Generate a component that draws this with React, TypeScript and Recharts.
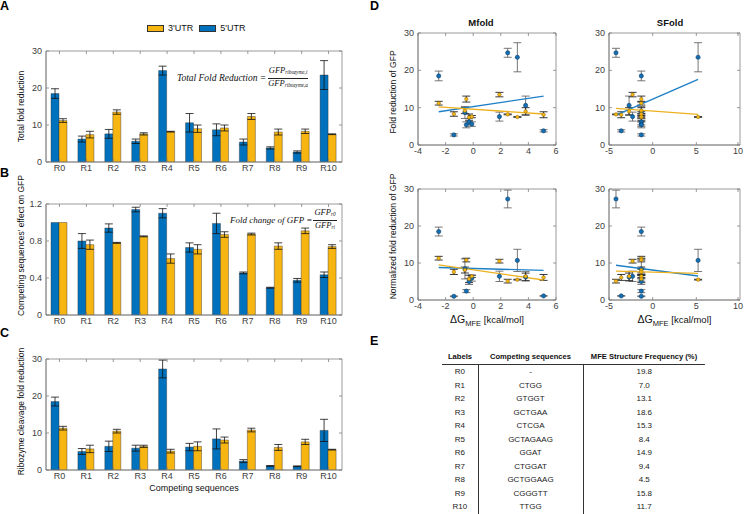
import React from "react"
import {
  BarChart,
  Bar,
  XAxis,
  YAxis,
  CartesianGrid,
  ErrorBar,
  Legend,
  ComposedChart,
  Scatter,
  Line,
  Label,
} from "recharts"

const FONT = '"Liberation Sans", Arial, Helvetica, sans-serif'
const SERIF = '"Liberation Serif", "DejaVu Serif", serif'
const BLUE = "#0072BD"
const YELLOW = "#F7B512"
const AXIS = "#808080"
const TICK_TEXT = "#404040"
const LABEL_TEXT = "#111"

// categories
const labels = ["R0", "R1", "R2", "R3", "R4", "R5", "R6", "R7", "R8", "R9", "R10"]

// A: total fold reduction
const total5 = [18.5, 6.2, 7.6, 5.6, 24.7, 10.6, 8.7, 5.4, 3.8, 2.7, 23.5]
const total5Err = [1.3, 0.8, 1.2, 0.6, 1.2, 2.5, 1.6, 0.8, 0.3, 0.3, 3.9]
const total3 = [11.2, 7.4, 13.5, 7.6, 8.2, 9.0, 9.2, 12.3, 8.1, 8.3, 7.5]
const total3Err = [0.5, 0.9, 0.6, 0.3, 0.1, 1.0, 0.8, 0.8, 0.8, 0.6, 0.1]

// B: competing sequences' effect on GFP
const effect5 = [1.0, 0.8, 0.94, 1.14, 1.1, 0.73, 0.99, 0.455, 0.295, 0.375, 0.435]
const effect5Err = [0, 0.08, 0.045, 0.025, 0.05, 0.05, 0.11, 0.01, 0.005, 0.02, 0.03]
const effect3 = [1.0, 0.76, 0.78, 0.85, 0.61, 0.71, 0.87, 0.875, 0.745, 0.91, 0.74]
const effect3Err = [0, 0.05, 0.005, 0.005, 0.05, 0.05, 0.03, 0.01, 0.035, 0.03, 0.02]

// C: ribozyme cleavage fold reduction
const cleave5 = [18.5, 5.0, 6.4, 5.9, 27.3, 6.2, 8.4, 2.4, 1.1, 1.0, 10.7]
const cleave5Err = [1.2, 0.8, 1.4, 0.8, 2.4, 1.0, 2.7, 0.4, 0.1, 0.1, 3.0]
const cleave3 = [11.3, 5.7, 10.5, 6.4, 5.1, 6.4, 8.1, 10.8, 6.1, 7.6, 5.5]
const cleave3Err = [0.5, 1.0, 0.5, 0.3, 0.5, 1.2, 0.8, 0.5, 0.8, 0.7, 0.1]

// D: free energies (kcal/mol) per construct
const mfoldDG = [-2.5, -0.3, 1.9, -0.1, 2.5, 3.8, -0.6, -0.5, 5.1, -1.4, 3.2]
const sfoldDG = [-1.3, -1.3, -2.3, -1.3, -4.2, -2.7, -1.3, -1.3, -3.6, -1.3, 5.2]

// D: linear fit end points
const mfoldFitX = [-2.5, 5.1]
const sfoldFitX = [-4.2, 5.2]
const fitTotalMfold5 = [8.9, 13.1]
const fitTotalMfold3 = [10.2, 8.3]
const fitTotalSfold5 = [8.0, 17.6]
const fitTotalSfold3 = [9.8, 8.2]
const fitCleaveMfold5 = [8.8, 8.0]
const fitCleaveMfold3 = [9.5, 5.4]
const fitCleaveSfold5 = [9.4, 6.5]
const fitCleaveSfold3 = [7.8, 7.2]

const countTicks = [0, 5, 10, 15, 20, 25, 30]
const effectTicks = [0, 0.2, 0.4, 0.6, 0.8, 1, 1.2]
const mfoldTicks = [-4, -2, 0, 2, 4, 6]
const sfoldTicks = [-5, 0, 5, 10]

// E: table
const sequences = ["-", "CTGG", "GTGGT", "GCTGAA", "CTCGA", "GCTAGAAG", "GGAT", "CTGGAT", "GCTGGAAG", "CGGGTT", "TTGG"]
const mfeFrequency = [19.8, 7.0, 13.1, 18.6, 15.3, 8.4, 14.9, 9.4, 4.5, 15.8, 11.7]

const barRows = (v5: number[], e5: number[], v3: number[], e3: number[]) =>
  labels.map((name, i) => ({ name, v5: v5[i], e5: e5[i], v3: v3[i], e3: e3[i] }))

const points = (xs: number[], ys: number[], es: number[]) =>
  labels.map((name, i) => ({ name, x: xs[i], y: ys[i], e: es[i] }))

const fitLine = (xs: number[], ys: number[]) => xs.map((x, i) => ({ x, y: ys[i] }))

// inward MATLAB-style ticks, drawn on both sides of the box
function makeYTick(margin: number, plotW: number) {
  return (props: any) => {
    const { x, y, payload } = props
    const ax = x + margin
    return (
      <g>
        <line x1={ax} y1={y} x2={ax + 3} y2={y} stroke={AXIS} strokeWidth={0.8} />
        <line x1={ax + plotW} y1={y} x2={ax + plotW - 3} y2={y} stroke={AXIS} strokeWidth={0.8} />
        <text x={x} y={y} dy="0.35em" textAnchor="end" fontSize={9} fill={TICK_TEXT} fontFamily={FONT}>
          {String(payload.value)}
        </text>
      </g>
    )
  }
}

function makeXTick(margin: number, plotH: number) {
  return (props: any) => {
    const { x, y, payload } = props
    const ay = y - margin
    return (
      <g>
        <line x1={x} y1={ay} x2={x} y2={ay - 3} stroke={AXIS} strokeWidth={0.8} />
        <line x1={x} y1={ay - plotH} x2={x} y2={ay - plotH + 3} stroke={AXIS} strokeWidth={0.8} />
        <text x={x} y={y} dy="0.71em" textAnchor="middle" fontSize={9} fill={TICK_TEXT} fontFamily={FONT}>
          {String(payload.value)}
        </text>
      </g>
    )
  }
}

const yTitle = (text: string, dx: number, dy: number) => (props: any) => {
  const vb = props.viewBox
  const x = vb.x + dx
  const y = vb.y + vb.height / 2 + dy
  return (
    <text
      x={x}
      y={y}
      transform={`rotate(-90 ${x} ${y})`}
      textAnchor="middle"
      dominantBaseline="central"
      fontSize={8.5}
      fill={LABEL_TEXT}
      fontFamily={FONT}
    >
      {text}
    </text>
  )
}

const xTitle = (text: string, dy: number) => (props: any) => {
  const vb = props.viewBox
  return (
    <text x={vb.x + vb.width / 2} y={vb.y + dy} textAnchor="middle" fontSize={9} fill={LABEL_TEXT} fontFamily={FONT}>
      {text}
    </text>
  )
}

const dgTitle = (props: any) => {
  const vb = props.viewBox
  return (
    <text x={vb.x + vb.width / 2} y={vb.y + 23} textAnchor="middle" fill={LABEL_TEXT} fontFamily={FONT}>
      <tspan fontSize={10.5}>ΔG</tspan>
      <tspan fontSize={7.5} dy={3}>MFE</tspan>
      <tspan fontSize={9.5} dy={-3}> [kcal/mol]</tspan>
    </text>
  )
}

const renderLegend = (props: any) => {
  const items = [...(props.payload || [])].sort((a: any, b: any) => String(a.value).localeCompare(String(b.value)))
  return (
    <div style={{ display: "flex", alignItems: "center", fontFamily: FONT, fontSize: 9, color: LABEL_TEXT }}>
      {items.map((it: any) => (
        <div key={it.value} style={{ display: "flex", alignItems: "center", marginRight: 6 }}>
          <span
            style={{
              display: "inline-block",
              width: 15,
              height: 5,
              background: it.color,
              border: "0.5px solid #333",
              marginRight: 4,
            }}
          />
          <span>{it.value}</span>
        </div>
      ))}
    </div>
  )
}

const BAR_W = 350
const BAR_YW = 46
const BAR_RIGHT = 8
const BAR_PLOT_W = BAR_W - BAR_YW - BAR_RIGHT

interface BarPanelProps {
  rows: ReturnType<typeof barRows>
  top: number
  marginTop: number
  plotH: number
  xAxisH: number
  domain: [number, number]
  ticks: number[]
  yText: string
  yDy: number
  xText?: string
  legend?: boolean
}

function BarPanel({ rows, top, marginTop, plotH, xAxisH, domain, ticks, yText, yDy, xText, legend }: BarPanelProps) {
  const height = marginTop + plotH + xAxisH
  return (
    <div style={{ position: "absolute", left: 0, top }}>
      <BarChart
        width={BAR_W}
        height={height}
        data={rows}
        margin={{ top: marginTop, right: BAR_RIGHT, left: 0, bottom: 0 }}
        barGap={0}
        barSize={8}
      >
        <CartesianGrid
          horizontalPoints={[marginTop, marginTop + plotH]}
          verticalPoints={[BAR_YW, BAR_YW + BAR_PLOT_W]}
          stroke={AXIS}
          strokeWidth={0.8}
        />
        <XAxis
          dataKey="name"
          height={xAxisH}
          interval={0}
          tickLine={false}
          tickSize={0}
          tickMargin={3}
          axisLine={{ stroke: AXIS, strokeWidth: 0.8 }}
          tick={makeXTick(3, plotH)}
        >
          {xText ? <Label content={xTitle(xText, 21)} /> : null}
        </XAxis>
        <YAxis
          width={BAR_YW}
          domain={domain}
          ticks={ticks}
          allowDataOverflow
          tickLine={false}
          tickSize={0}
          tickMargin={4}
          axisLine={{ stroke: AXIS, strokeWidth: 0.8 }}
          tick={makeYTick(4, BAR_PLOT_W)}
        >
          <Label content={yTitle(yText, 21, yDy)} />
        </YAxis>
        {legend ? (
          <Legend
            content={renderLegend}
            layout="horizontal"
            verticalAlign="middle"
            align="center"
            wrapperStyle={{ top: 8, left: 147, width: 120, height: 16 }}
          />
        ) : null}
        <Bar dataKey="v5" name="5'UTR" fill={BLUE} stroke="#2a2a2a" strokeWidth={0.4} isAnimationActive={false}>
          <ErrorBar dataKey="e5" width={4} stroke="#111" strokeWidth={0.8} />
        </Bar>
        <Bar dataKey="v3" name="3'UTR" fill={YELLOW} stroke="#2a2a2a" strokeWidth={0.4} isAnimationActive={false}>
          <ErrorBar dataKey="e3" width={4} stroke="#111" strokeWidth={0.8} />
        </Bar>
      </BarChart>
    </div>
  )
}

const blueDot = (p: any) => <circle cx={p.cx} cy={p.cy} r={2.1} fill="#1470b4" stroke="#0b3c68" strokeWidth={0.6} />
const yellowDot = (p: any) => <circle cx={p.cx} cy={p.cy} r={1.8} fill={YELLOW} stroke="#6a5208" strokeWidth={0.4} />

interface ScatterPanelProps {
  left: number
  top: number
  width: number
  yW: number
  right: number
  marginTop: number
  plotH: number
  xAxisH: number
  xDomain: [number, number]
  xTicks: number[]
  blue: ReturnType<typeof points>
  yellow: ReturnType<typeof points>
  fitBlue: { x: number; y: number }[]
  fitYellow: { x: number; y: number }[]
  yText?: string
  yDy?: number
  dgLabel?: boolean
}

function ScatterPanel(p: ScatterPanelProps) {
  const height = p.marginTop + p.plotH + p.xAxisH
  const plotW = p.width - p.yW - p.right
  return (
    <div style={{ position: "absolute", left: p.left, top: p.top }}>
      <ComposedChart
        width={p.width}
        height={height}
        margin={{ top: p.marginTop, right: p.right, left: 0, bottom: 0 }}
      >
        <CartesianGrid
          horizontalPoints={[p.marginTop, p.marginTop + p.plotH]}
          verticalPoints={[p.yW, p.yW + plotW]}
          stroke={AXIS}
          strokeWidth={0.8}
        />
        <XAxis
          type="number"
          dataKey="x"
          domain={p.xDomain}
          ticks={p.xTicks}
          allowDataOverflow
          height={p.xAxisH}
          tickLine={false}
          tickSize={0}
          tickMargin={3}
          axisLine={{ stroke: AXIS, strokeWidth: 0.8 }}
          tick={makeXTick(3, p.plotH)}
        >
          {p.dgLabel ? <Label content={dgTitle} /> : null}
        </XAxis>
        <YAxis
          type="number"
          dataKey="y"
          domain={[0, 30]}
          ticks={countTicks}
          allowDataOverflow
          width={p.yW}
          tickLine={false}
          tickSize={0}
          tickMargin={4}
          axisLine={{ stroke: AXIS, strokeWidth: 0.8 }}
          tick={makeYTick(4, plotW)}
        >
          {p.yText ? <Label content={yTitle(p.yText, 23, p.yDy || 0)} /> : null}
        </YAxis>
        <Scatter data={p.blue} shape={blueDot} isAnimationActive={false}>
          <ErrorBar dataKey="e" direction="y" width={4} stroke="#555" strokeWidth={0.8} />
        </Scatter>
        <Scatter data={p.yellow} shape={yellowDot} isAnimationActive={false}>
          <ErrorBar dataKey="e" direction="y" width={4} stroke="#222" strokeWidth={0.9} />
        </Scatter>
        <Line
          data={p.fitBlue}
          dataKey="y"
          type="linear"
          stroke="#1f80c6"
          strokeWidth={1.4}
          dot={false}
          activeDot={false}
          isAnimationActive={false}
        />
        <Line
          data={p.fitYellow}
          dataKey="y"
          type="linear"
          stroke="#EDB120"
          strokeWidth={1.4}
          dot={false}
          activeDot={false}
          isAnimationActive={false}
        />
      </ComposedChart>
    </div>
  )
}

function Fraction({ num, numSub, den, denSub, size }: { num: string; numSub: string; den: string; denSub: string; size: number }) {
  const sub = { fontSize: size * 0.62, verticalAlign: "-0.25em" } as React.CSSProperties
  return (
    <span style={{ display: "inline-flex", flexDirection: "column", alignItems: "center", margin: "0 1px" }}>
      <span style={{ lineHeight: `${size + 1}px`, borderBottom: "0.8px solid #222", padding: "0 1px" }}>
        {num}
        <span style={sub}>{numSub}</span>
      </span>
      <span style={{ lineHeight: `${size + 1}px`, padding: "0 1px" }}>
        {den}
        <span style={sub}>{denSub}</span>
      </span>
    </span>
  )
}

const panelLetter = (text: string, left: number, top: number) => (
  <div
    style={{
      position: "absolute",
      left,
      top,
      fontFamily: FONT,
      fontWeight: "bold",
      fontSize: 12.5,
      lineHeight: "13px",
      color: "#000",
    }}
  >
    {text}
  </div>
)

const centeredTitle = (text: string, cx: number, top: number) => (
  <div
    style={{
      position: "absolute",
      left: cx - 40,
      width: 80,
      top,
      textAlign: "center",
      fontFamily: FONT,
      fontWeight: "bold",
      fontSize: 9.5,
      lineHeight: "12px",
      color: "#111",
    }}
  >
    {text}
  </div>
)

const cell: React.CSSProperties = { padding: 0, height: 13.5, lineHeight: "13.5px", textAlign: "center" }

export default function App() {
  return (
    <div
      style={{
        position: "absolute",
        left: 0,
        top: 0,
        width: 746,
        height: 514,
        background: "#fff",
        overflow: "hidden",
        fontFamily: FONT,
      }}
    >
      <BarPanel
        rows={barRows(total5, total5Err, total3, total3Err)}
        top={15}
        marginTop={36}
        plotH={111}
        xAxisH={23}
        domain={[0, 30]}
        ticks={countTicks}
        yText="Total fold reduction"
        yDy={0}
        legend
      />
      <BarPanel
        rows={barRows(effect5, effect5Err, effect3, effect3Err)}
        top={170}
        marginTop={34}
        plotH={111}
        xAxisH={22}
        domain={[0, 1.2]}
        ticks={effectTicks}
        yText="Competing sequences' effect on GFP"
        yDy={-14}
      />
      <BarPanel
        rows={barRows(cleave5, cleave5Err, cleave3, cleave3Err)}
        top={335}
        marginTop={24}
        plotH={111}
        xAxisH={32}
        domain={[0, 30]}
        ticks={countTicks}
        yText="Ribozyme cleavage fold reduction"
        yDy={-3}
        xText="Competing sequences"
      />

      {/* formulas */}
      <div
        style={{
          position: "absolute",
          left: 177,
          top: 65,
          display: "flex",
          alignItems: "center",
          fontFamily: SERIF,
          fontStyle: "italic",
          fontSize: 9.5,
          color: "#111",
          whiteSpace: "nowrap",
        }}
      >
        <span>Total Fold Reduction =</span>
        <span style={{ fontSize: 8.5 }}>
          <Fraction num="GFP" numSub="ribozyme,i" den="GFP" denSub="ribozyme,a" size={8.5} />
        </span>
      </div>
      <div
        style={{
          position: "absolute",
          left: 230,
          top: 207,
          display: "flex",
          alignItems: "center",
          fontFamily: SERIF,
          fontStyle: "italic",
          fontSize: 9,
          color: "#111",
          whiteSpace: "nowrap",
        }}
      >
        <span>Fold change of GFP =</span>
        <span style={{ fontSize: 8.5 }}>
          <Fraction num="GFP" numSub="r0" den="GFP" denSub="ri" size={8.5} />
        </span>
      </div>

      {centeredTitle("Mfold", 481, 17)}
      {centeredTitle("SFold", 670, 17)}

      <ScatterPanel
        left={370}
        top={15}
        width={190}
        yW={48}
        right={4}
        marginTop={18}
        plotH={112}
        xAxisH={20}
        xDomain={[-4, 6]}
        xTicks={mfoldTicks}
        blue={points(mfoldDG, total5, total5Err)}
        yellow={points(mfoldDG, total3, total3Err)}
        fitBlue={fitLine(mfoldFitX, fitTotalMfold5)}
        fitYellow={fitLine(mfoldFitX, fitTotalMfold3)}
        yText="Fold reduction of GFP"
        yDy={3}
      />
      <ScatterPanel
        left={590}
        top={15}
        width={156}
        yW={19}
        right={6}
        marginTop={18}
        plotH={112}
        xAxisH={20}
        xDomain={[-5, 10]}
        xTicks={sfoldTicks}
        blue={points(sfoldDG, total5, total5Err)}
        yellow={points(sfoldDG, total3, total3Err)}
        fitBlue={fitLine(sfoldFitX, fitTotalSfold5)}
        fitYellow={fitLine(sfoldFitX, fitTotalSfold3)}
      />
      <ScatterPanel
        left={370}
        top={160}
        width={190}
        yW={48}
        right={4}
        marginTop={29}
        plotH={111}
        xAxisH={32}
        xDomain={[-4, 6]}
        xTicks={mfoldTicks}
        blue={points(mfoldDG, cleave5, cleave5Err)}
        yellow={points(mfoldDG, cleave3, cleave3Err)}
        fitBlue={fitLine(mfoldFitX, fitCleaveMfold5)}
        fitYellow={fitLine(mfoldFitX, fitCleaveMfold3)}
        yText="Normalized fold reduction of GFP"
        yDy={-8}
        dgLabel
      />
      <ScatterPanel
        left={590}
        top={160}
        width={156}
        yW={19}
        right={6}
        marginTop={29}
        plotH={111}
        xAxisH={32}
        xDomain={[-5, 10]}
        xTicks={sfoldTicks}
        blue={points(sfoldDG, cleave5, cleave5Err)}
        yellow={points(sfoldDG, cleave3, cleave3Err)}
        fitBlue={fitLine(sfoldFitX, fitCleaveSfold5)}
        fitYellow={fitLine(sfoldFitX, fitCleaveSfold3)}
        dgLabel
      />

      {panelLetter("A", 0, 0)}
      {panelLetter("B", 0, 167)}
      {panelLetter("C", 0, 327)}
      {panelLetter("D", 370, 0)}
      {panelLetter("E", 370, 335)}

      {/* E: table */}
      <table
        style={{
          position: "absolute",
          left: 442,
          top: 349,
          width: 263,
          borderCollapse: "collapse",
          fontFamily: FONT,
          fontSize: 8,
          color: "#222",
          tableLayout: "fixed",
        }}
      >
        <colgroup>
          <col style={{ width: 36 }} />
          <col style={{ width: 105 }} />
          <col style={{ width: 122 }} />
        </colgroup>
        <thead>
          <tr style={{ borderBottom: "1px solid #333" }}>
            {["Labels", "Competing sequences", "MFE Structure Frequency (%)"].map((h) => (
              <th key={h} style={{ ...cell, height: 15, lineHeight: "15px", fontSize: 7.6, fontWeight: "bold", color: "#111", whiteSpace: "nowrap" }}>
                {h}
              </th>
            ))}
          </tr>
        </thead>
        <tbody>
          {labels.map((lab, i) => (
            <tr key={lab} style={i === labels.length - 1 ? { borderBottom: "1px solid #333" } : undefined}>
              <td style={{ ...cell, borderRight: "1px solid #333" }}>{lab}</td>
              <td style={{ ...cell, borderRight: "1px solid #333" }}>{sequences[i]}</td>
              <td style={cell}>{mfeFrequency[i].toFixed(1)}</td>
            </tr>
          ))}
        </tbody>
      </table>
    </div>
  )
}
